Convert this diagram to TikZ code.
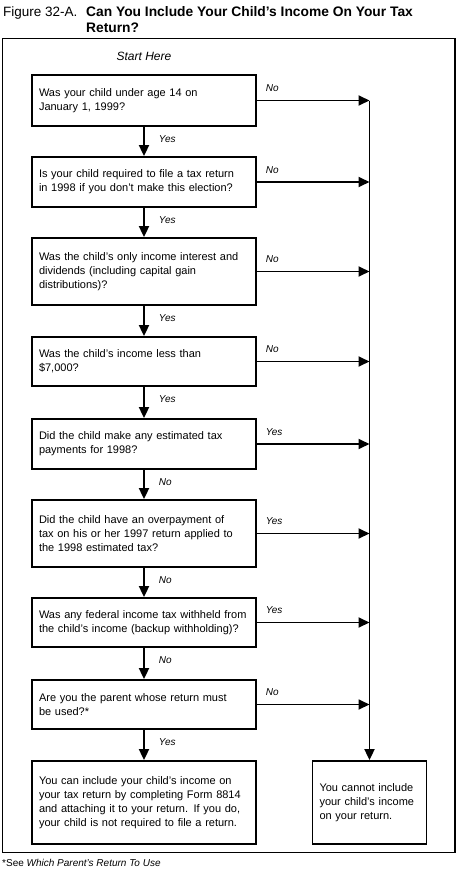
\documentclass[tikz,border=0pt]{standalone}
\usepackage{fontspec}
\setmainfont{Liberation Sans}
\usetikzlibrary{arrows.meta}
\newcommand{\bodyfont}{\fontsize{11}{14}\selectfont}

\begin{document}
\begin{tikzpicture}[x=1pt, y=-1pt,
  qbox/.style={draw, line width=1.8pt, text width=210pt, inner xsep=7pt, inner ysep=0pt, align=left, font=\bodyfont},
  endbox/.style={qbox, text width=100pt},
  flow/.style={line width=1.8pt, -{Triangle[length=11pt,width=10pt]}},
  ans/.style={font=\itshape\fontsize{10}{12}\selectfont, inner sep=0pt}]
\useasboundingbox (0,0) rectangle (458,875);
\node[anchor=base west, inner sep=0pt, font=\fontsize{13.5}{16}\selectfont] (fig) at (3,17) {Figure 32-A.};
\node[anchor=base west, inner sep=0pt, font=\bfseries\fontsize{13.8}{16}\selectfont] (title1) at (86,17) {Can You Include Your Child’s Income On Your Tax};
\node[anchor=base west, inner sep=0pt, font=\bfseries\fontsize{13.8}{16}\selectfont] (title2) at (86,33) {Return?};
\draw[line width=1.8pt] (2.5,38.5) rectangle (455,852.5);
\node[anchor=base, inner sep=0pt, font=\itshape\fontsize{12}{14}\selectfont] (start) at (144,61) {Start Here};
\coordinate (t0) at (369.5,0);

\node[qbox, minimum height=51pt] (q1) at (144,100.5) {Was your child under age 14 on\\January 1, 1999?};
\node[qbox, minimum height=50pt] (q2) at (144,182) {Is your child required to file a tax return\\in 1998 if you don't make this election?};
\node[qbox, minimum height=67pt] (q3) at (144,271.5) {Was the child's only income interest and\\dividends (including capital gain\\distributions)?};
\node[qbox, minimum height=49pt] (q4) at (144,361.5) {Was the child's income less than\\\$7,000?};
\node[qbox, minimum height=50pt] (q5) at (144,444) {Did the child make any estimated tax\\payments for 1998?};
\node[qbox, minimum height=67pt] (q6) at (144,533.5) {Did the child have an overpayment of\\tax on his or her 1997 return applied to\\the 1998 estimated tax?};
\node[qbox, minimum height=49pt] (q7) at (144,622.5) {Was any federal income tax withheld from\\the child's income (backup withholding)?};
\node[qbox, minimum height=49pt] (q8) at (144,704.5) {Are you the parent whose return must\\be used?*};
\node[qbox, minimum height=83pt] (yesbox) at (144,802.5) {You can include your child's income on\\your tax return by completing Form 8814\\and attaching it to your return. If you do,\\your child is not required to file a return.};
\node[endbox, minimum height=83pt] (nobox) at (369.5,802.5) {You cannot include\\your child's income\\on your return.};

% down the left column
\draw[flow] (q1.south) -- (q2.north) node[ans, pos=0, anchor=base west, xshift=14pt, yshift=-16pt] {Yes};
\draw[flow] (q2.south) -- (q3.north) node[ans, pos=0, anchor=base west, xshift=14pt, yshift=-16pt] {Yes};
\draw[flow] (q3.south) -- (q4.north) node[ans, pos=0, anchor=base west, xshift=14pt, yshift=-16pt] {Yes};
\draw[flow] (q4.south) -- (q5.north) node[ans, pos=0, anchor=base west, xshift=14pt, yshift=-16pt] {Yes};
\draw[flow] (q5.south) -- (q6.north) node[ans, pos=0, anchor=base west, xshift=14pt, yshift=-16pt] {No};
\draw[flow] (q6.south) -- (q7.north) node[ans, pos=0, anchor=base west, xshift=14pt, yshift=-16pt] {No};
\draw[flow] (q7.south) -- (q8.north) node[ans, pos=0, anchor=base west, xshift=14pt, yshift=-16pt] {No};
\draw[flow] (q8.south) -- (yesbox.north) node[ans, pos=0, anchor=base west, xshift=14pt, yshift=-16pt] {Yes};

% across to the trunk
\draw[flow] (q1.east) -- (q1.east -| t0) node[ans, pos=0, anchor=base west, xshift=8pt, yshift=9pt] {No};
\draw[flow] (q2.east) -- (q2.east -| t0) node[ans, pos=0, anchor=base west, xshift=8pt, yshift=9pt] {No};
\draw[flow] (q3.east) -- (q3.east -| t0) node[ans, pos=0, anchor=base west, xshift=8pt, yshift=9pt] {No};
\draw[flow] (q4.east) -- (q4.east -| t0) node[ans, pos=0, anchor=base west, xshift=8pt, yshift=9pt] {No};
\draw[flow] (q5.east) -- (q5.east -| t0) node[ans, pos=0, anchor=base west, xshift=8pt, yshift=9pt] {Yes};
\draw[flow] (q6.east) -- (q6.east -| t0) node[ans, pos=0, anchor=base west, xshift=8pt, yshift=9pt] {Yes};
\draw[flow] (q7.east) -- (q7.east -| t0) node[ans, pos=0, anchor=base west, xshift=8pt, yshift=9pt] {Yes};
\draw[flow] (q8.east) -- (q8.east -| t0) node[ans, pos=0, anchor=base west, xshift=8pt, yshift=9pt] {No};
\draw[flow] (q1.east -| t0) -- (nobox.north);

\node[anchor=base west, inner sep=0pt, font=\fontsize{10}{12}\selectfont] (note) at (2,866) {*See \textit{Which Parent’s Return To Use}};
\end{tikzpicture}
\end{document}
